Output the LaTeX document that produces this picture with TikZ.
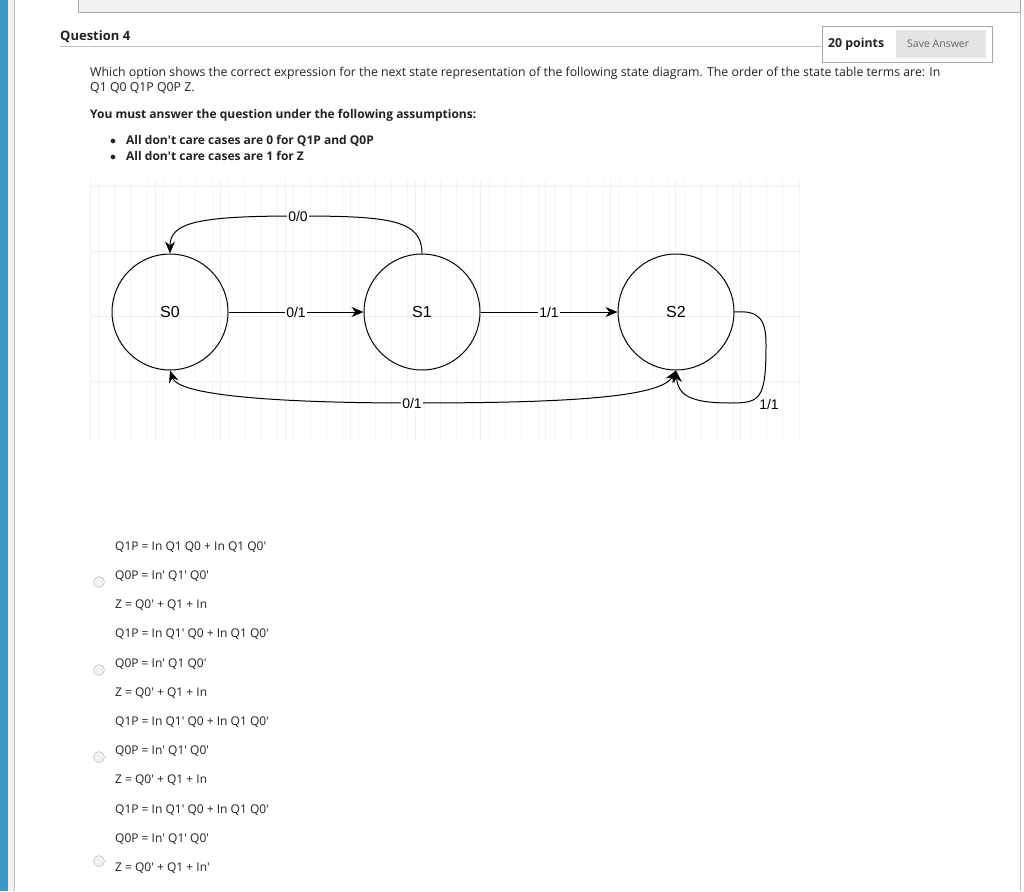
\documentclass[tikz,border=0pt]{standalone}
\usepackage{fontspec}
\setmainfont{Open Sans}
\newfontfamily\arialf{Liberation Sans}
\newcommand\ap{\textquotesingle}
\usetikzlibrary{arrows.meta}
\definecolor{stripe}{HTML}{3A9AC4}
\definecolor{btn}{HTML}{E4E4E4}
\definecolor{gridc}{HTML}{F2F2F2}
\definecolor{txt}{HTML}{222222}
\begin{document}
\begin{tikzpicture}[x=1pt,y=-1pt,
  state/.style={circle,draw,line width=1pt,minimum size=116pt,inner sep=0pt,font=\arialf\fontsize{16}{16}\selectfont},
  edge/.style={line width=1pt,-{Stealth[length=12pt,width=10pt]}},
  lbl/.style={fill=white,inner sep=1pt,font=\arialf\fontsize{14}{14}\selectfont},
  body/.style={anchor=west,inner sep=0pt,text=txt,font=\fontsize{12.3}{14}\selectfont},
  bodyb/.style={body,font=\bfseries\fontsize{12}{14}\selectfont},
  opt/.style={anchor=west,inner sep=0pt,text=txt,font=\fontsize{12}{13}\selectfont},
  radio/.style={circle,draw=gray!60,fill=gray!10,minimum size=11pt,inner sep=0pt}]
\useasboundingbox (0,0) rectangle (1024,891);
\fill[white] (0,0) rectangle (1024,891);
% page frame
\fill[stripe] (0,0) rectangle (8,891);
\fill[gray!12] (8,0) rectangle (14,891);
\draw[gray!50] (14,0) -- (14,891);
\filldraw[fill=gray!10,draw=gray!70] (78,-2) rectangle (1020,12);
\draw[gray!50] (1020,12) -- (1020,891);
% header
\node[body,font=\bfseries\fontsize{13}{14}\selectfont] (q) at (60,37) {Question 4};
\draw[gray!50] (60,46) -- (822,46);
\draw[gray!70,fill=white] (822,26) rectangle (992,62);
\node[body,font=\bfseries\fontsize{12.3}{14}\selectfont] (pts) at (828,44) {20 points};
\fill[btn] (896,30) rectangle (986,58);
\node[body,text=gray!80!black,font=\fontsize{10.5}{12}\selectfont] (save) at (907,44) {Save Answer};
\node[body] (t1) at (90,73) {Which option shows the correct expression for the next state representation of the following state diagram. The order of the state table terms are: In};
\node[body] (t2) at (90,88) {Q1 Q0 Q1P Q0P Z.};
\node[bodyb] (t3) at (90,115) {You must answer the question under the following assumptions:};
\node[bodyb] (b1) at (110,141) {$\bullet$\hspace{10pt}All don\ap t care cases are 0 for Q1P and Q0P};
\node[bodyb] (b2) at (110,156) {$\bullet$\hspace{10pt}All don\ap t care cases are 1 for Z};
% grid
\draw[gridc,line width=0.4pt] (90,180) grid[step=16.3] (800,442);
\foreach \x in {90,155,220,285,350,415,480,545,610,675,740} \draw[gray!12,line width=0.5pt] (\x,180) -- (\x,442);
\foreach \y in {186,251,316,381} \draw[gray!12,line width=0.5pt] (90,\y) -- (800,\y);
% states
\node[state] (s0) at (170,312) {S0};
\node[state] (s1) at (422,312) {S1};
\node[state] (s2) at (676,312) {S2};
\draw[edge] (s0) -- node[lbl]{0/1} (s1);
\draw[edge] (s1) -- node[lbl]{1/1} (s2);
\draw[edge] (s1.north) .. controls (422,220) and (390,216) .. (298,216) node[lbl]{0/0} .. controls (200,216) and (170,222) .. (s0.north);
\draw[line width=1pt,{Stealth[length=12pt,width=10pt]}-{Stealth[length=12pt,width=10pt]}] (s0.south) .. controls (180,400) and (330,403) .. (412,403) node[lbl]{0/1} .. controls (560,403) and (660,398) .. (s2.south);
\draw[edge] (s2.east) .. controls (760,310) and (766,320) .. (766,345) .. controls (766,400) and (760,403) .. (730,403) .. controls (690,403) and (678,395) .. (s2.south);
\node[lbl,fill=none] (l3) at (769,404) {1/1};
% options
\foreach \i/\t in {0/{Q1P = In Q1 Q0 + In Q1 Q0\ap},1/{Q0P = In\ap{} Q1\ap{} Q0\ap},2/{Z = Q0\ap{} + Q1 + In},
  3/{Q1P = In Q1\ap{} Q0 + In Q1 Q0\ap},4/{Q0P = In\ap{} Q1 Q0\ap},5/{Z = Q0\ap{} + Q1 + In},
  6/{Q1P = In Q1\ap{} Q0 + In Q1 Q0\ap},7/{Q0P = In\ap{} Q1\ap{} Q0\ap},8/{Z = Q0\ap{} + Q1 + In},
  9/{Q1P = In Q1\ap{} Q0 + In Q1 Q0\ap},10/{Q0P = In\ap{} Q1\ap{} Q0\ap},11/{Z = Q0\ap{} + Q1 + In\ap}}
  \node[opt] (o\i) at (115,547+29.2*\i) {\t};
\node[radio] (r1) at (99,582) {};
\node[radio] (r2) at (99,670) {};
\node[radio] (r3) at (99,757) {};
\node[radio] (r4) at (99,861) {};
\end{tikzpicture}
\end{document}
